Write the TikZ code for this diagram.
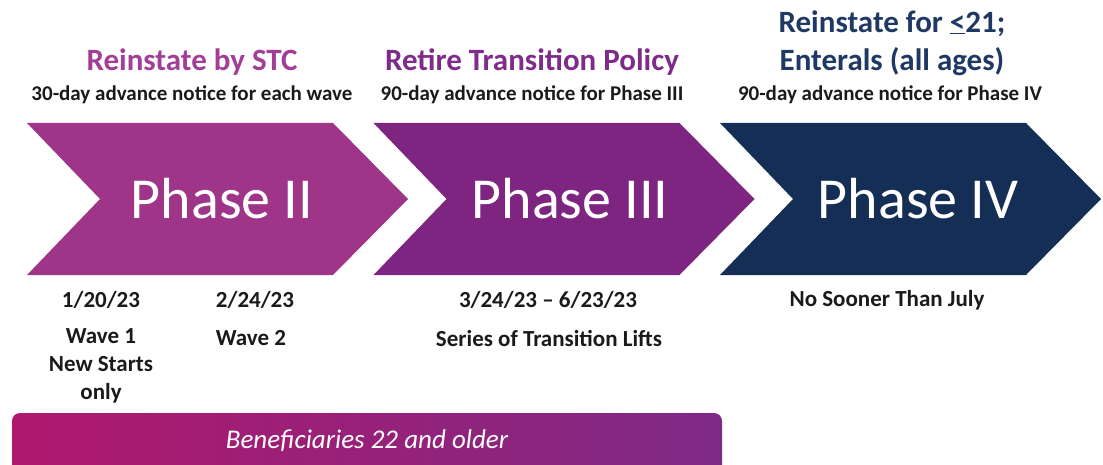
\documentclass[tikz,border=0pt]{standalone}
\usepackage{fontspec}
\setmainfont{Carlito}
\definecolor{ctwo}{HTML}{9E3589}
\definecolor{cthree}{HTML}{7E2582}
\definecolor{cfour}{HTML}{152E55}
\definecolor{ttwo}{HTML}{A23E96}
\definecolor{tthree}{HTML}{7E2B8A}
\definecolor{tfour}{HTML}{1F3864}
\definecolor{txt}{HTML}{1A1A1A}
\definecolor{barl}{HTML}{B0186E}
\definecolor{barr}{HTML}{7E2A85}
\begin{document}
\begin{tikzpicture}[x=1pt,y=-1pt,
  title/.style={font=\fontsize{31}{38}\selectfont\bfseries, align=center},
  sub/.style={font=\fontsize{21}{23}\selectfont\bfseries, text=txt},
  phase/.style={font=\fontsize{58}{62}\selectfont, text=white},
  info/.style={font=\fontsize{23}{28}\selectfont\bfseries, text=txt, align=center},
  bartext/.style={font=\fontsize{27}{29}\selectfont\itshape, text=white}]
\useasboundingbox (0,0) rectangle (1103,465);
% chevrons
\fill[ctwo] (27,123) -- (333,123) -- (408,199) -- (333,275) -- (27,275) -- (100,199) -- cycle;
\fill[cthree] (373.5,123) -- (679.5,123) -- (754.5,199) -- (679.5,275) -- (373.5,275) -- (446.5,199) -- cycle;
\fill[cfour] (720,123) -- (1026,123) -- (1101,199) -- (1026,275) -- (720,275) -- (793,199) -- cycle;
\node[phase] (p2) at (222,199) {Phase II};
\node[phase] (p3) at (570,199) {Phase III};
\node[phase] (p4) at (918,199) {Phase IV};
% titles
\node[title, text=ttwo] (t2) at (192,62) {Reinstate by STC};
\node[sub] (s2) at (192,95) {30-day advance notice for each wave};
\node[title, text=tthree] (t3) at (532,62) {Retire Transition Policy};
\node[sub] (s3) at (532,95) {90-day advance notice for Phase III};
\node[title, text=tfour] (t4) at (892,43) {Reinstate for \underline{<}21;\\Enterals (all ages)};
\node[sub] (s4) at (890,95) {90-day advance notice for Phase IV};
% info
\node[info] (d1) at (101,300) {1/20/23};
\node[info] (d2) at (255,300) {2/24/23};
\node[info] (w1) at (101,366) {Wave 1\\New Starts\\only};
\node[info] (w2) at (251,338) {Wave 2};
\node[info] (d3) at (548,300) {3/24/23 -- 6/23/23};
\node[info] (l3) at (549,338) {Series of Transition Lifts};
\node[info] (d4) at (887,300) {No Sooner Than July};
% bar
\shade[left color=barl, right color=barr, rounded corners=8] (12,413) rectangle (722,480);
\node[bartext] (bar) at (367,441) {Beneficiaries 22 and older};
\end{tikzpicture}
\end{document}
